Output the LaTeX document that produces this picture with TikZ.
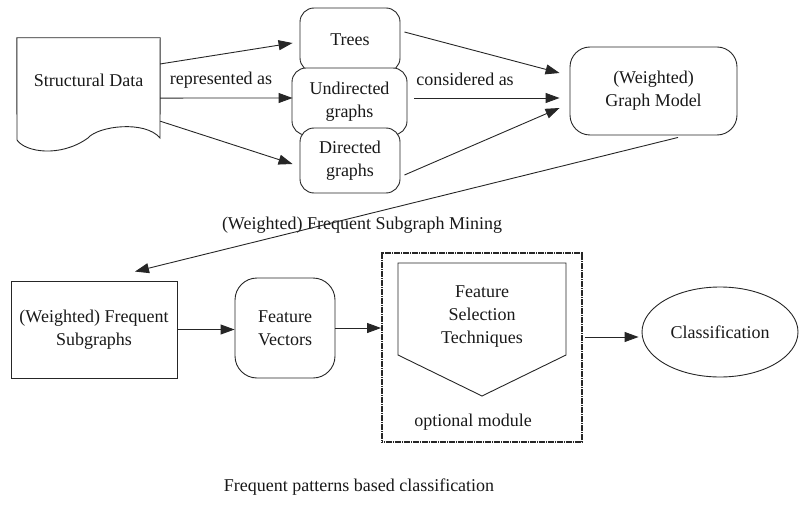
\documentclass[tikz,border=0pt]{standalone}
\usepackage{fontspec}
\setmainfont{Liberation Serif}
\usetikzlibrary{arrows.meta,calc,shapes.geometric}
\begin{document}
\begin{tikzpicture}[x=1pt,y=-1pt,
  every node/.style={font=\fontsize{18}{23}\selectfont, text=black!90, align=center},
  ln/.style={draw=black!85, line width=0.9pt},
  arr/.style={ln, -{Triangle[length=14pt,width=10pt]}},
  rbox/.style={ln, rounded corners=14pt, fill=white, inner sep=0pt},
  sbox/.style={ln, fill=white, inner sep=0pt},
  optbox/.style={draw=black!85, line width=1.9pt, dash pattern=on 1.4pt off 0.4pt, inner sep=0pt},
  plain/.style={inner sep=0pt, minimum size=0pt}
]
\useasboundingbox (0,0) rectangle (799,505);

% source document with a wavy lower edge
\node[plain, minimum width=143pt, minimum height=84pt] (sd) at (88.5,80) {Structural Data};
\draw[ln] (sd.north west) -- (sd.north east) -- (160,138)
  .. controls (145,120) and (98,126) .. (88,138)
  .. controls (60,158) and (25,152) .. (17,140) -- cycle;

% graph representations
\node[rbox, minimum width=100pt, minimum height=64pt] (t) at (350,40) {Trees};
\node[rbox, minimum width=115pt, minimum height=67pt] (u) at (349.5,101.5) {Undirected\\graphs};
\node[rbox, minimum width=100pt, minimum height=65pt] (d) at (350,160.5) {Directed\\graphs};

\node (rep) at (221,80) {represented as};
\node (con) at (465,79) {considered as};

\draw[arr] ($(sd.north east)!0.31!(sd.south east)$) -- ($(t.west)+(-7,3)$);
\draw[arr] ($(sd.north east)!0.714!(sd.south east)$) -- ($(u.west)+(1,-3.5)$);
\draw[arr] ($(sd.north east)!0.988!(sd.south east)$) -- ($(d.west)+(-7,3.5)$);

% graph model
\node[rbox, rounded corners=20pt, minimum width=167pt, minimum height=88pt] (gm) at (653.5,91) {(Weighted)\\Graph Model};

\draw[arr] ($(t.east)+(4,-8)$) -- ($(gm.west)+(-10,-18)$);
\draw[arr] ($(u.east)+(7,-3.5)$) -- ($(gm.west)+(-10,7)$);
\draw[arr] ($(d.east)+(4,14.5)$) -- ($(gm.west)+(-10,17)$);

\node (mine) at (362,225) {(Weighted) Frequent Subgraph Mining};

% bottom row
\node[sbox, minimum width=166pt, minimum height=97pt] (fs) at (94,329.5) {(Weighted) Frequent\\Subgraphs};
\node[rbox, rounded corners=22pt, minimum width=100pt, minimum height=100pt] (fv) at (285,328) {Feature\\Vectors};

\draw[arr] ($(gm.south)+(24.5,2)$) -- ($(fs.north)+(41,-9)$);

\node[optbox, minimum width=200pt, minimum height=189pt] (opt) at (482,347.5) {};
\draw[ln] (398,263) -- (566,263) -- (566,355) -- (482,396) -- (398,355) -- cycle;
\node (fst) at (482,316.5) {Feature\\Selection\\Techniques};
\node (optl) at (473,422) {optional module};

\node[ln, ellipse, inner sep=0pt, minimum width=156pt, minimum height=90pt] (cls) at (720,332) {Classification};

\draw[arr] (fs.east) -- (fs.east -| fv.west);
\draw[arr] (fv.east) -- (fv.east -| opt.west);
\draw[arr] ($(opt.east)+(2,-10.5)$) -- ($(cls.west)+(-3,5)$);

\node (cap) at (359,487) {Frequent patterns based classification};
\end{tikzpicture}
\end{document}
